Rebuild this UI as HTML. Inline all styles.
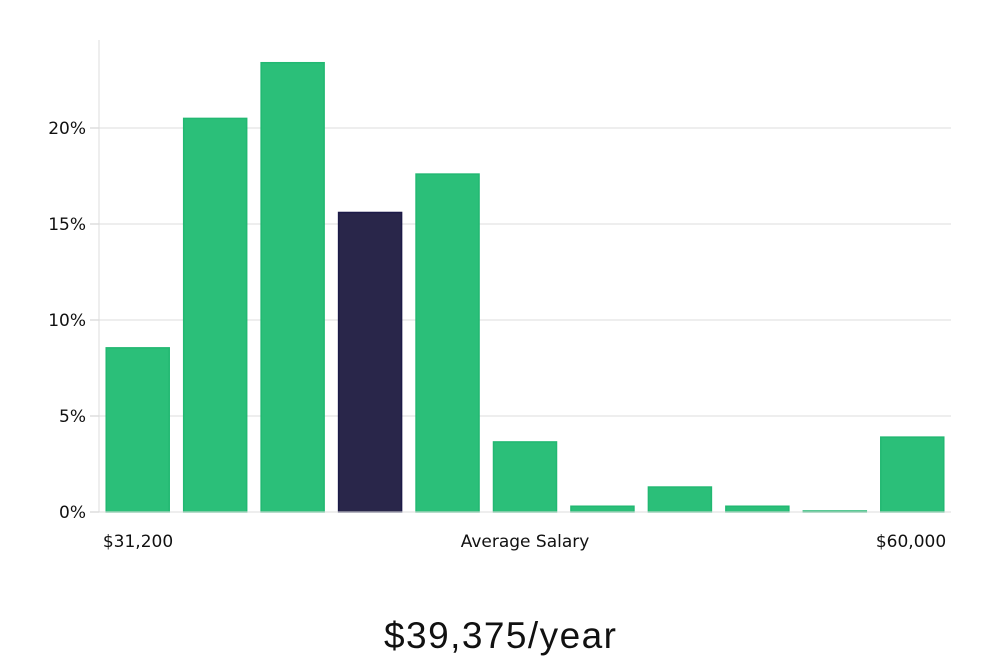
<!DOCTYPE html>
<html><head><meta charset="utf-8"><style>
html,body{margin:0;padding:0;background:#fff;}
svg{display:block;}
text{font-family:"DejaVu Sans","Liberation Sans",sans-serif;fill:#111;}
</style></head><body>
<svg id="chart" width="1000" height="660">
<g id="grid"></g><g id="bars"></g><g id="axes"></g>
<text x="138" y="547" font-size="17" text-anchor="middle">$31,200</text>
<text x="525" y="547" font-size="17" text-anchor="middle">Average Salary</text>
<text x="911" y="547" font-size="17" text-anchor="middle">$60,000</text>
<text x="500" y="648" font-size="37" text-anchor="middle" style="font-family:'Liberation Sans',sans-serif;font-weight:300" textLength="232">$39,375/year</text>
</svg>
<script>
const categories = ["b1","b2","b3","b4","b5","b6","b7","b8","b9","b10","b11"];
const values = [8.55,20.5,23.4,15.6,17.6,3.65,0.3,1.3,0.3,0.05,3.9];
const highlightIndex = 3;
const yTicks = [0,5,10,15,20];
const yTickLabels = ["0%","5%","10%","15%","20%"];
const NS="http://www.w3.org/2000/svg";
const x0=99,x1=951,yBase=512,pxPer=19.2;
const band=(x1-x0)/categories.length;
const y=v=>yBase-v*pxPer;
const xb=i=>x0+i*band+(band-63)/2;
function mk(t,a,p){const e=document.createElementNS(NS,t);for(const k in a)e.setAttribute(k,a[k]);p.appendChild(e);return e;}
const grid=document.getElementById('grid'),bars=document.getElementById('bars'),axes=document.getElementById('axes');
yTicks.forEach((t,i)=>{
  if(t>0){const l=mk('line',{x1:x0,x2:x1,y1:y(t),y2:y(t),stroke:'#dcdcdc','stroke-width':1},grid);
  
  }
  const tk=mk('line',{x1:x0-9,x2:x0,y1:y(t),y2:y(t),stroke:'#ccc'},axes);
  
  
  const tx=mk('text',{x:x0-13,y:y(t)+6,'font-size':17,'text-anchor':'end'},axes);
  tx.textContent=yTickLabels[i];
  
  
});
const ax=mk('line',{x1:x0,x2:x0,y1:40,y2:yBase,stroke:'#dcdcdc'},axes);


const bl=mk('line',{x1:x0,x2:x1,y1:yBase,y2:yBase,stroke:'#dcdcdc'},axes);


values.forEach((v,i)=>{
  const h=Math.max(v*pxPer,1);
  const hi=i===highlightIndex;
  const r=mk('rect',{x:xb(i),y:yBase-h,width:63,height:h,fill:hi?'#29264a':'#2bbf79',stroke:hi?'#1c1a48':'#22b872','stroke-width':1.5},bars);
  
  
});
</script>
</body></html>
